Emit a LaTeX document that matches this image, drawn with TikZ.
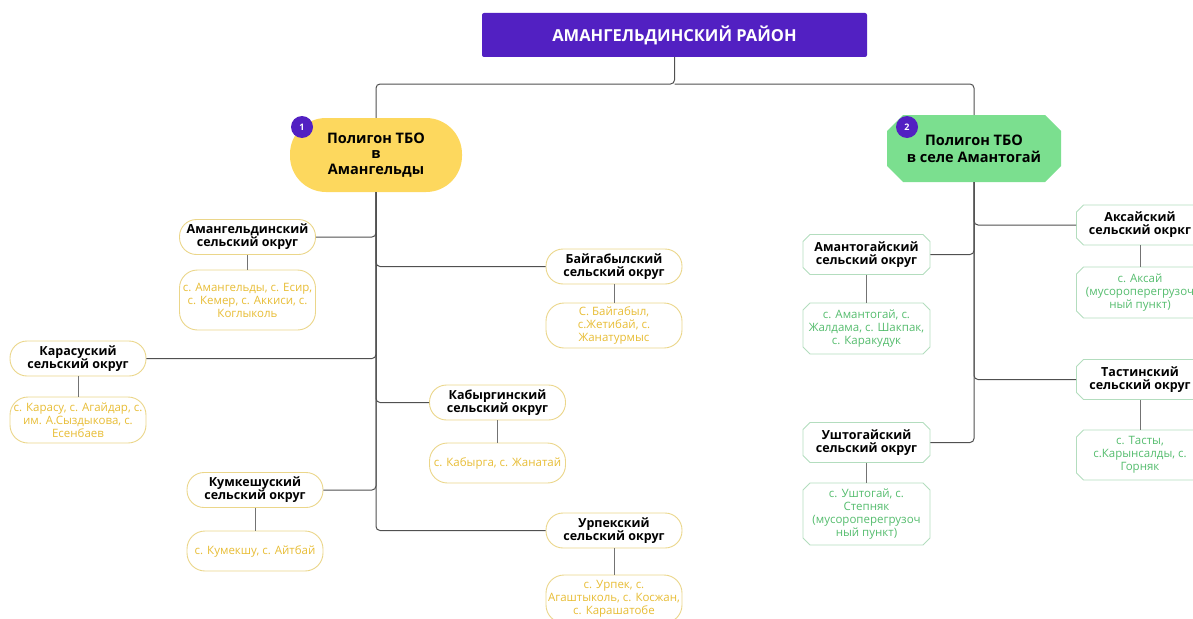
\documentclass[tikz,border=0pt]{standalone}
\usepackage{fontspec}
\setmainfont{Open Sans}
\usetikzlibrary{shapes.misc}
\definecolor{purp}{HTML}{5220C2}
\definecolor{yfill}{HTML}{FDD85E}
\definecolor{yline}{HTML}{EBD68A}
\definecolor{ytext}{HTML}{E8BD35}
\definecolor{gfill}{HTML}{7BDF8F}
\definecolor{gline}{HTML}{B3DDBE}
\definecolor{gtext}{HTML}{55BD6E}
\definecolor{conncol}{HTML}{505050}
\tikzset{
  conn/.style={draw=conncol, line width=1pt, rounded corners=4pt},
  stem/.style={draw=conncol!80, line width=1pt},
  yhead/.style={draw=yline, fill=white, line width=0.9pt, rounded corners=17pt, minimum width=136pt, minimum height=35pt, inner sep=0pt, align=center, font=\bfseries\fontsize{12.5}{13}\selectfont},
  ydet/.style={draw=yline, fill=white, line width=0.9pt, rounded corners=18pt, minimum width=136pt, inner sep=0pt, align=center, text=ytext, font=\fontsize{11.5}{13}\selectfont},
  ghead/.style={chamfered rectangle, chamfered rectangle xsep=3.5pt, chamfered rectangle ysep=3.5pt, draw=gline, fill=white, line width=0.9pt, minimum width=127pt, minimum height=40pt, inner sep=0pt, align=center, font=\bfseries\fontsize{12.5}{13}\selectfont},
  gdet/.style={chamfered rectangle, chamfered rectangle xsep=3.5pt, chamfered rectangle ysep=3.5pt, draw=gline, fill=white, line width=0.9pt, minimum width=127pt, inner sep=0pt, align=center, text=gtext, font=\fontsize{11.5}{13}\selectfont},
  badge/.style={circle, fill=purp, minimum size=22pt, inner sep=0pt, text=white, font=\bfseries\fontsize{9}{9}\selectfont},
}
\begin{document}
\begin{tikzpicture}[x=1pt,y=-1pt]
\useasboundingbox (0,0) rectangle (1193,618);
\clip (0,0) rectangle (1193,618);

% top
\node[fill=purp, rounded corners=2pt, minimum width=385pt, minimum height=44pt, inner sep=0pt, text=white, font=\bfseries\fontsize{16.5}{17}\selectfont] (top) at (674.5,35) {АМАНГЕЛЬДИНСКИЙ РАЙОН};

% polygons
\node[fill=yfill, rounded corners=36pt, minimum width=172pt, minimum height=74pt, inner sep=0pt, align=center, font=\bfseries\fontsize{14.5}{15.5}\selectfont] (p1) at (376,155) {Полигон ТБО\\в\\Амангельды};
\node[badge] (b1) at (302,127) {1};

\node[chamfered rectangle, chamfered rectangle xsep=8pt, chamfered rectangle ysep=8pt, fill=gfill, minimum width=174pt, minimum height=67pt, inner sep=0pt, align=center, font=\bfseries\fontsize{14.5}{15.5}\selectfont] (p2) at (974,148.5) {\strut Полигон ТБО\\в селе Амантогай};
\node[badge] (b2) at (907,127) {2};

\coordinate (j) at (674.5,84);
\draw[conn] (top.south) -- (j) -| (p1.north);
\draw[conn] (j) -| (p2.north);

% left branches
\node[yhead] (amh) at (247.5,237) {Амангельдинский\\сельский округ};
\node[ydet, minimum height=60pt] (amd) at (247.5,300) {с. Амангельды, с. Есир,\\с. Кемер, с. Аккиси, с.\\Коглыколь};
\node[yhead] (krh) at (78,358.5) {Карасуский\\сельский округ};
\node[ydet, minimum height=46pt] (krd) at (78,420) {с. Карасу, с. Агайдар, с.\\им. А.Сыздыкова, с.\\Есенбаев};
\node[yhead] (kmh) at (255,490) {Кумкешуский\\сельский округ};
\node[ydet, minimum height=40pt] (kmd) at (255,551) {с. Кумекшу, с. Айтбай};
\node[yhead] (bgh) at (614,266.5) {Байгабылский\\сельский округ};
\node[ydet, minimum height=45pt] (bgd) at (614,325.5) {С. Байгабыл,\\с.Жетибай, с.\\Жанатурмыс};
\node[yhead] (kbh) at (497.5,402.5) {Кабыргинский\\сельский округ};
\node[ydet, minimum height=40pt] (kbd) at (497.5,463) {с. Кабырга, с. Жанатай};
\node[yhead] (urh) at (614,530.5) {Урпекский\\сельский округ};
\node[ydet, minimum height=48pt] (urd) at (614,599) {с. Урпек, с.\\Агаштыколь, с. Косжан,\\с. Карашатобе};

\draw[conn] (p1.south) |- (urh.west);
\draw[conn] (p1.south) |- (amh.east);
\draw[conn] (p1.south) |- (bgh.west);
\draw[conn] (p1.south) |- (krh.east);
\draw[conn] (p1.south) |- (kbh.west);
\draw[conn] (p1.south) |- (kmh.east);
\foreach \h/\d in {amh/amd,krh/krd,kmh/kmd,bgh/bgd,kbh/kbd,urh/urd} \draw[stem] (\h.south) -- (\d.north);

% right branches
\node[ghead] (ath) at (866.5,254.5) {Амантогайский\\сельский округ};
\node[gdet, minimum height=51pt] (atd) at (866.5,328.5) {с. Амантогай, с.\\Жалдама, с. Шакпак,\\с. Каракудук};
\node[ghead] (uth) at (866.5,442.5) {Уштогайский\\сельский округ};
\node[gdet, minimum height=62pt] (utd) at (866.5,514) {с. Уштогай, с.\\Степняк\\(мусороперегрузоч\\ный пункт)};
\node[ghead] (akh) at (1140,225) {Аксайский\\сельский окркг};
\node[gdet, minimum height=51pt] (akd) at (1140,292.5) {с. Аксай\\(мусороперегрузоч\\ный пункт)};
\node[ghead] (tsh) at (1140,379.5) {Тастинский\\сельский округ};
\node[gdet, minimum height=50pt] (tsd) at (1140,455) {с. Тасты,\\с.Карынсалды, с.\\Горняк};

\draw[conn] (p2.south) |- (uth.east);
\draw[conn] (p2.south) |- (ath.east);
\draw[conn] (p2.south) |- (akh.west);
\draw[conn] (p2.south) |- (tsh.west);
\foreach \h/\d in {ath/atd,uth/utd,akh/akd,tsh/tsd} \draw[stem] (\h.south) -- (\d.north);
\end{tikzpicture}
\end{document}
